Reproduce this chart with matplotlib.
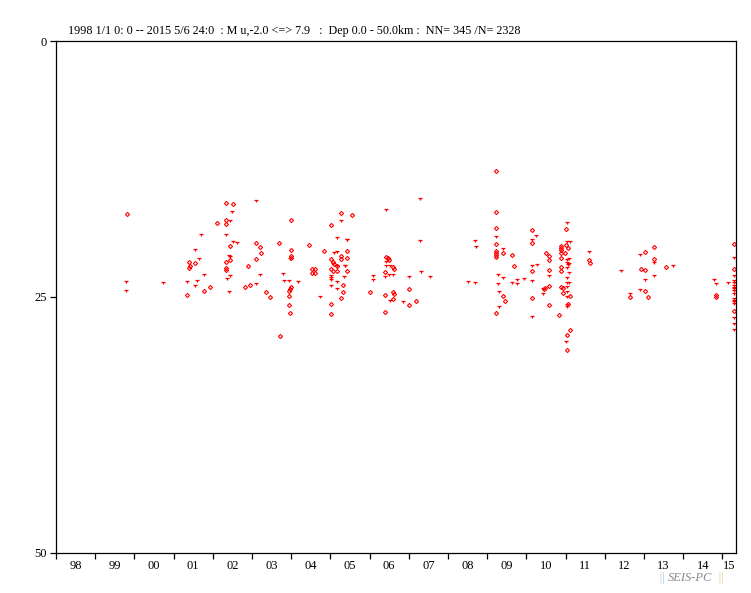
import numpy as np
import matplotlib

matplotlib.use('Agg')

import matplotlib.pyplot as plt
from matplotlib.path import Path

# hollow diamond events (decimal year, depth km)
dia_year = [1999.82, 2002.34, 2002.52, 2002.11, 2002.34, 2002.34, 2004.00, 2005.28, 2005.56, 2005.02,
            2003.11, 2003.21, 2003.70, 2004.46, 2002.45, 2004.00, 2003.24, 2004.84, 2005.41, 2005.26,
            2005.26, 2005.02, 2005.41, 2001.38, 2001.55, 2001.42, 2001.38, 2002.34, 2002.45, 2003.11,
            2004.00, 2004.00, 2002.91, 2002.34, 2002.34, 2005.07, 2005.10, 2005.18, 2005.02, 2005.07,
            2005.18, 2005.41, 2004.53, 2004.61, 2004.53, 2004.61, 2002.83, 2002.96, 2001.94, 2001.78,
            2003.36, 2003.47, 2004.00, 2003.98, 2003.94, 2003.95, 2003.95, 2003.98, 2003.72, 2001.34,
            2005.33, 2005.33, 2005.28, 2005.02, 2005.02,
            2006.02, 2006.42, 2006.46, 2006.49, 2006.60, 2006.63, 2006.40, 2006.60, 2006.63, 2006.40,
            2006.60, 2007.01, 2007.17, 2007.01, 2006.40, 2009.23, 2009.23, 2009.23, 2009.23, 2009.23,
            2009.23, 2009.23, 2009.23, 2009.39, 2009.64, 2009.67, 2009.39, 2009.46, 2009.23, 2010.13,
            2010.13, 2010.13, 2010.13, 2010.51, 2010.58, 2010.58, 2010.58, 2010.58, 2010.48, 2010.46,
            2010.58, 2010.84, 2010.87, 2010.87, 2010.87, 2010.87, 2010.87, 2011.07, 2011.02, 2011.02,
            2010.99, 2010.87, 2010.87, 2010.87, 2010.92, 2010.92, 2011.12, 2011.07, 2011.12, 2011.04,
            2011.04, 2011.60, 2011.63,
            2013.03, 2013.26, 2013.26, 2012.91, 2013.03, 2013.57, 2013.03, 2013.11, 2014.84, 2014.84,
            2015.30, 2015.30, 2015.30, 2012.65]
dia_depth = [16.92, 15.85, 15.95, 17.80, 17.51, 17.90, 17.51, 16.83, 17.02, 18.00,
             19.76, 20.15, 19.76, 19.95, 20.05, 20.44, 20.73, 20.54, 20.54, 21.03,
             21.32, 21.32, 21.22, 21.61, 21.71, 22.00, 22.20, 21.61, 21.42, 21.32,
             21.03, 21.22, 22.00, 22.20, 22.39, 21.61, 21.81, 22.00, 22.29, 22.49,
             22.49, 22.49, 22.29, 22.29, 22.63, 22.63, 24.05, 23.86, 24.05, 24.44,
             24.54, 25.03, 24.05, 24.25, 24.44, 24.93, 25.81, 26.59, 28.84, 24.83,
             23.86, 24.54, 25.13, 25.71, 26.69,
             24.54, 21.12, 21.22, 21.36, 22.10, 22.29, 22.59, 24.54, 24.74, 24.83,
             25.22, 24.25, 25.42, 25.81, 26.49, 12.72, 16.73, 18.29, 19.85, 20.54,
             20.73, 20.93, 21.12, 20.73, 20.93, 22.00, 24.93, 25.42, 26.59, 18.49,
             19.76, 22.49, 25.13, 20.73, 21.03, 21.42, 22.39, 23.95, 24.15, 24.25,
             25.81, 26.79, 20.05, 20.24, 20.44, 20.73, 21.22, 20.24, 18.39, 19.95,
             20.73, 22.10, 22.49, 24.05, 24.15, 24.64, 24.93, 25.71, 28.25, 28.74,
             30.21, 21.42, 21.71,
             20.63, 20.15, 21.32, 22.29, 22.39, 22.10, 24.44, 25.03, 24.83, 25.03,
             19.85, 22.29, 26.37, 25.03]

# small solid tick-shaped events
t_year = [2003.09, 2002.48, 2002.43, 2001.71, 2002.34, 2002.52, 2002.61, 2001.54, 2001.65, 2002.42,
          2002.44, 2003.96, 2001.78, 2002.45, 2002.37, 2003.21, 2003.79, 2003.82, 2003.95, 2004.18,
          2003.11, 2001.35, 2001.60, 2001.55, 1999.79, 1999.79, 2000.74, 2002.42, 2004.74, 2005.17,
          2005.43, 2005.10, 2005.17, 2005.28, 2005.37, 2005.02, 2005.02, 2005.18, 2005.02, 2005.02,
          2005.18, 2005.35, 2005.07, 2005.18,
          2006.41, 2007.29, 2007.29, 2007.30, 2007.55, 2006.09, 2006.09, 2005.43, 2005.36, 2006.41,
          2006.41, 2006.52, 2006.38, 2006.49, 2006.60, 2007.01, 2006.52, 2006.84, 2008.70, 2008.71,
          2008.52, 2008.70, 2009.23, 2009.39, 2009.28, 2009.39, 2009.28, 2009.29, 2009.29, 2009.64,
          2009.77, 2009.77, 2009.95, 2010.13, 2010.13, 2010.26, 2010.25, 2010.13, 2010.13, 2010.58,
          2010.43, 2010.43, 2011.03, 2011.03, 2011.11, 2011.03, 2011.04, 2011.06, 2011.03, 2011.08,
          2011.08, 2011.08, 2011.03, 2011.04, 2011.08, 2011.04, 2011.03, 2011.03, 2011.04, 2011.04,
          2011.01, 2011.60,
          2012.41, 2012.65, 2012.89, 2013.26, 2013.03, 2013.26, 2013.73, 2012.89, 2014.79, 2014.84,
          2015.15, 2015.30, 2015.30, 2015.30, 2015.30, 2015.30, 2015.30, 2015.30, 2015.30, 2015.30,
          2015.30, 2015.30, 2015.30, 2015.30, 2015.30, 2015.30, 2015.30]
t_depth = [15.65, 16.73, 17.61, 18.97, 18.97, 19.60, 19.76, 20.44, 21.32, 21.03,
           21.10, 21.32, 22.82, 22.92, 23.21, 22.82, 22.72, 23.41, 23.41, 23.56,
           23.70, 23.56, 23.41, 23.90, 23.51, 24.41, 23.60, 24.54, 25.03, 19.21,
           19.40, 20.67, 20.61, 17.58, 22.00, 22.98, 23.17, 23.56, 23.37, 23.93,
           24.25, 23.05, 21.81, 21.94,
           16.53, 15.40, 19.56, 22.59, 23.02, 22.95, 23.34, 19.43, 22.00, 21.55,
           22.00, 22.00, 23.02, 22.82, 22.82, 23.02, 25.42, 25.52, 19.56, 20.15,
           23.51, 23.60, 19.11, 20.28, 22.85, 23.11, 23.73, 24.54, 26.01, 23.60,
           23.31, 23.70, 23.27, 21.94, 23.47, 21.90, 19.04, 19.40, 26.98, 22.98,
           24.74, 24.25, 17.80, 19.63, 19.63, 21.42, 21.65, 21.88, 22.14, 21.26,
           21.75, 22.69, 23.17, 23.63, 23.63, 24.05, 24.51, 24.97, 25.78, 25.95,
           29.42, 20.61,
           22.49, 24.74, 20.93, 21.68, 23.31, 22.92, 22.00, 24.35, 23.31, 23.70,
           23.60, 21.22, 22.92, 23.44, 23.60, 23.93, 24.09, 24.25, 24.41, 24.74,
           25.22, 25.39, 25.55, 25.71, 27.02, 27.61, 28.22]

years = list(range(1998, 2016))
year_labels = ['98', '99', '00', '01', '02', '03', '04', '05', '06', '07',
               '08', '09', '10', '11', '12', '13', '14', '15']
t_start = 1998.0
t_end = 2015.345
title = '1998 1/1 0: 0 -- 2015 5/6 24:0  : M u,-2.0 <=> 7.9   :  Dep 0.0 - 50.0km :  NN= 345 /N= 2328'

plt.rcParams['font.family'] = ['Liberation Serif', 'DejaVu Serif']

fig = plt.figure(figsize=(7.51, 5.93), dpi=100)
ax = fig.add_axes([56/751, 1-552.7/593, (736-56)/751, (552.7-41)/593])

tee = Path([(-1, 0.5), (1, 0.5), (0, 0.5), (0, -0.9)],
           [Path.MOVETO, Path.LINETO, Path.MOVETO, Path.LINETO])

ax.plot(dia_year, dia_depth, ls='none', marker='D', ms=2.1, mfc='none',
        mec='#ff0000', mew=0.8, antialiased=False)
ax.plot(t_year, t_depth, ls='none', marker=tee, ms=2.3, mec='#ff0000',
        mew=0.9, antialiased=False)

ax.set_xlim(t_start, t_end)
ax.set_ylim(50, 0)

ax.set_xticks(years)
ax.set_xticklabels([])
mids = [min(y + 0.5, (y + t_end) / 2) for y in years]
ax.set_xticks(mids, minor=True)
ax.set_xticklabels(year_labels, minor=True, fontsize=9)
ax.tick_params(axis='x', which='major', direction='out', length=4.5, width=0.9)
ax.tick_params(axis='x', which='minor', length=0, pad=5)

ax.set_yticks([0, 25, 50])
ax.set_yticklabels(['0', '25', '50'], fontsize=9)
ax.tick_params(axis='y', direction='out', length=4.5, width=0.9, pad=2)

for s in ax.spines.values():
    s.set_linewidth(0.9)

fig.text(68/751, 1-31/593, title, fontsize=8.7, va='center', ha='left')

fig.text(658/751, 1-578/593, '||', fontsize=9, style='italic', color='#a8c8e8', va='center', ha='left')
fig.text(668/751, 1-578/593, 'SEIS-PC', fontsize=9, style='italic', color='#888888', va='center', ha='left')
fig.text(717/751, 1-578/593, '||', fontsize=9, style='italic', color='#f0c890', va='center', ha='left')

plt.savefig('out.png', dpi=100)
plt.close()
